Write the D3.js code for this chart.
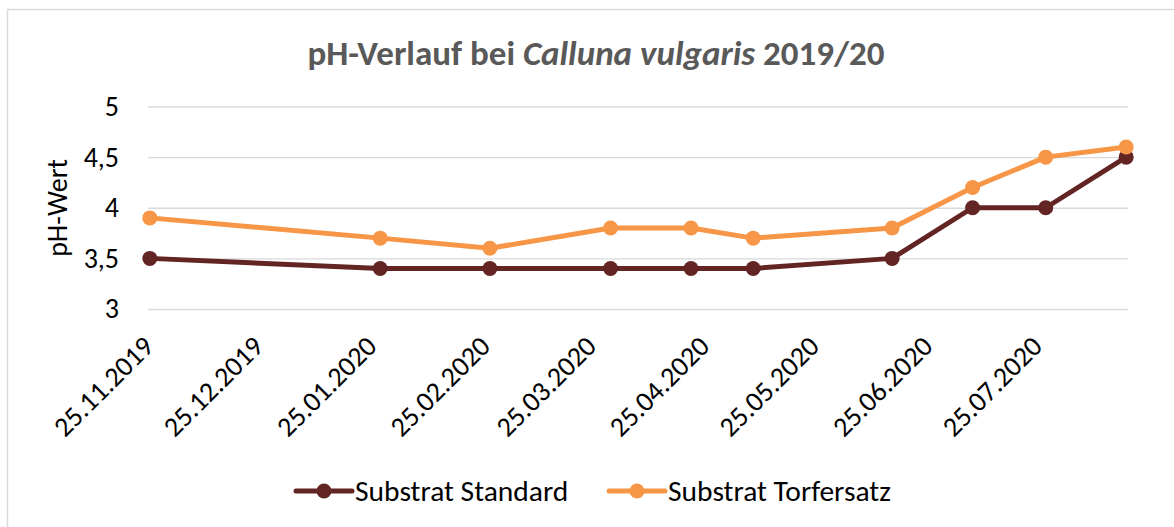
<!DOCTYPE html>
<html>
<head>
<meta charset="utf-8">
<script src="https://cdn.jsdelivr.net/npm/d3@7"></script>
<style>
  body { margin: 0; background: #fff; }
  text { font-family: Carlito, Calibri, "Open Sans", sans-serif; }
</style>
</head>
<body>
<svg id="chart" width="1174" height="527"></svg>
<script>

// data
var dates = ["25.11.2019", "27.01.2020", "26.02.2020", "30.03.2020", "21.04.2020",
             "08.05.2020", "15.06.2020", "07.07.2020", "27.07.2020", "18.08.2020"];
var standard = [3.5, 3.4, 3.4, 3.4, 3.4, 3.4, 3.5, 4.0, 4.0, 4.5];
var torfersatz = [3.9, 3.7, 3.6, 3.8, 3.8, 3.7, 3.8, 4.2, 4.5, 4.6];
var tickLabels = ["25.11.2019", "25.12.2019", "25.01.2020", "25.02.2020", "25.03.2020",
                  "25.04.2020", "25.05.2020", "25.06.2020", "25.07.2020"];
var yTicks = [3, 3.5, 4, 4.5, 5];
var seriesNames = ["Substrat Standard", "Substrat Torfersatz"];
var colors = ["#632523", "#f79646"];


var svg = d3.select("#chart");
var parse = d3.utcParse("%d.%m.%Y");
var de = d3.formatLocale({decimal: ",", thousands: ".", grouping: [3], currency: ["", " €"]});

// plot box (window.top is taken, so no "top" here)
var plotLeft = 148, plotRight = 1128, plotTop = 106.5, plotBottom = 309;

// frame of the chart area
svg.append("rect")
  .attr("x", 7.5).attr("y", 9.5)
  .attr("width", 1200).attr("height", 600)
  .attr("fill", "#fff").attr("stroke", "#d9d9d9").attr("stroke-width", 1.5);

// date axis: Excel puts each day in the middle of its slot
var first = parse(dates[0]), last = parse(dates[dates.length - 1]);
var x = d3.scaleUtc()
  .domain([d3.utcHour.offset(first, -12), d3.utcHour.offset(last, 12)])
  .range([plotLeft, plotRight]);

var y = d3.scaleLinear()
  .domain([3, 5])
  .range([plotBottom, plotTop]);

// gridlines + y labels
var yAxis = svg.append("g")
  .attr("transform", "translate(" + plotLeft + ",0)")
  .call(d3.axisLeft(y).tickValues(yTicks).tickSize(-(plotRight - plotLeft)).tickPadding(29)
        .tickFormat(de.format(".1~f")));
yAxis.select(".domain").remove();
yAxis.selectAll("line").attr("stroke", "#d9d9d9").attr("stroke-width", 1.3);
yAxis.selectAll("text").attr("font-size", "28px").attr("fill", "#000");

// x labels, rotated
var xAxis = svg.append("g")
  .attr("transform", "translate(0," + plotBottom + ")")
  .call(d3.axisBottom(x).tickValues(tickLabels.map(parse)).tickSize(0)
        .tickFormat(d3.utcFormat("%d.%m.%Y")));
xAxis.select(".domain").remove();
xAxis.selectAll("text")
  .attr("y", 0).attr("dy", null)
  .attr("text-anchor", "end")
  .attr("transform", "translate(5,39) rotate(-45)")
  .attr("font-size", "28px").attr("fill", "#000");

// axis title
svg.append("text")
  .attr("transform", "translate(67,208) rotate(-90)")
  .attr("text-anchor", "middle")
  .attr("font-size", "28px").attr("fill", "#000")
  .text("pH-Wert");

// title
var title = svg.append("text")
  .attr("x", 596).attr("y", 65)
  .attr("text-anchor", "middle")
  .attr("font-size", "35px").attr("font-weight", "bold").attr("fill", "#595959");
title.append("tspan").text("pH-Verlauf bei ");
title.append("tspan").attr("font-style", "italic").text("Calluna vulgaris");
title.append("tspan").text(" 2019/20");

// lines
var series = [standard, torfersatz];
var line = d3.line()
  .x(function (d, i) { return x(parse(dates[i])); })
  .y(function (d) { return y(d); });

series.forEach(function (vals, k) {
  svg.append("path")
    .datum(vals)
    .attr("d", line)
    .attr("fill", "none")
    .attr("stroke", colors[k])
    .attr("stroke-width", 5)
    .attr("stroke-linejoin", "round");

  svg.selectAll(".dot" + k)
    .data(vals)
    .enter().append("circle")
    .attr("class", "dot" + k)
    .attr("cx", function (d, i) { return x(parse(dates[i])); })
    .attr("cy", function (d) { return y(d); })
    .attr("r", 7.5)
    .attr("fill", colors[k]);
});

// legend
var legendX = [296, 609];
var legend = svg.selectAll(".legend")
  .data(seriesNames)
  .enter().append("g")
  .attr("class", "legend")
  .attr("transform", function (d, i) { return "translate(" + legendX[i] + ",491)"; });

legend.append("line")
  .attr("x1", 0).attr("x2", 56)
  .attr("stroke", function (d, i) { return colors[i]; })
  .attr("stroke-width", 5)
  .attr("stroke-linecap", "round");
legend.append("circle")
  .attr("cx", 28).attr("r", 7.5)
  .attr("fill", function (d, i) { return colors[i]; });
legend.append("text")
  .attr("x", 59).attr("dy", "0.35em")
  .attr("font-size", "29.5px").attr("fill", "#000")
  .text(function (d) { return d; });

</script>
</body>
</html>
